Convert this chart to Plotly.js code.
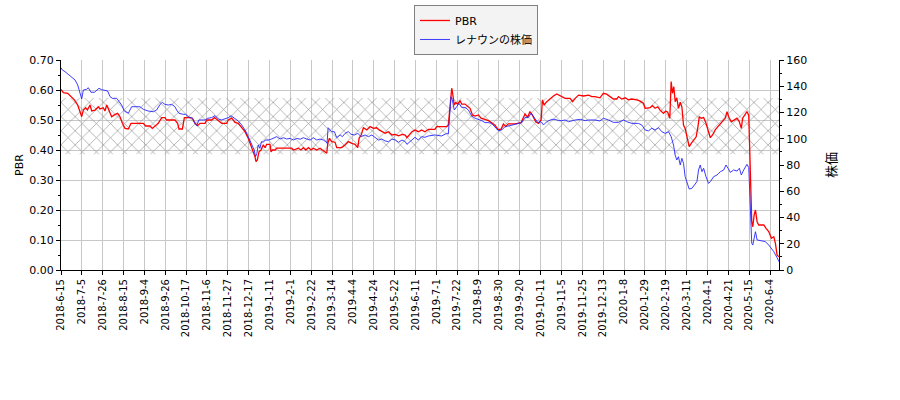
<!DOCTYPE html>
<html>
<head>
<meta charset="utf-8">
<script src="https://cdn.plot.ly/plotly-3.0.1.min.js"></script>
<style>
  html, body { margin: 0; padding: 0; background: #fff; }
  #myDiv { width: 900px; height: 400px; }
</style>
</head>
<body>
<div id="myDiv"></div>
<script>
// x = trading-day index (one tick label every 14 trading days)
var tickLabels = ['2018-6-15','2018-7-5','2018-7-26','2018-8-15','2018-9-4','2018-9-26',
  '2018-10-17','2018-11-6','2018-11-27','2018-12-17','2019-1-11','2019-2-1','2019-2-22',
  '2019-3-14','2019-4-4','2019-4-24','2019-5-22','2019-6-11','2019-7-1','2019-7-22',
  '2019-8-9','2019-8-30','2019-9-20','2019-10-11','2019-11-5','2019-11-25','2019-12-13',
  '2020-1-8','2020-1-29','2020-2-19','2020-3-11','2020-4-1','2020-4-21','2020-5-15','2020-6-4'];
var tickStep = 14;
var lastDay = 482;

// hatched reference band on the PBR axis
var bandLow = 0.386;
var bandHigh = 0.573;

var pbrDay = [0,1.6,4.5,6,9,11.2,12.8,13.9,15,16.6,17.7,19.5,20.6,22.8,25,26.2,28.4,29.5,30.7,32.9,
  34,35.8,38,39.6,41.2,43,45.2,47,55.3,56.8,59.7,61.3,63.1,65.3,67.6,69.8,70.9,76.5,78.3,79.2,
  81.5,82.8,86.6,88.2,90,91.7,93.3,96.7,97.8,101.1,103,105.6,107.9,111.2,112.3,114.6,
  116.8,119,121.3,123.5,125.7,127.5,129.1,130.2,130.9,131.8,132.9,134.3,135.2,135.8,137,138.1,
  140.3,141,141.9,143.7,144.8,150.4,151.5,154.9,156,159.3,161.1,162.7,164.3,166.1,167.9,169.4,
  171.7,173.9,175.5,177.7,178.4,179.1,180.2,181.7,184,185.1,188.4,190.7,192.9,195.2,197.4,199.2,
  200.1,201.5,203,205.3,207.5,209.8,212,213.6,215.4,217.6,219.9,222.1,224.4,226.6,228.9,231.1,
  232.2,233.8,235.6,
  237.6,239.9,242.1,244.3,246.6,251,252.2,258.9,260,261.1,262.3,262.9,264,264.9,266.3,267.9,269,
  271.2,273.5,274.6,276.2,278,280.2,282,284.6,286.9,289.1,291.4,293.2,295.4,297,298.5,300.3,304.8,
  308.8,310.4,311.5,313.3,314.8,316.4,318.7,320.5,322.3,323.2,324.3,326.1,328.3,330.6,332.8,335.1,
  338.4,341.8,343.4,345.2,347.4,350.8,354.1,356.4,
  358.5,361.8,364.1,366.3,368.6,370.8,373.1,374.2,376.4,378.7,380.9,383.2,386.5,388.8,391,392.1,
  395.5,397,398.8,400.6,402.2,404.4,406,407.3,408.7,409.6,410.5,411.4,412.3,413.4,414.5,415.7,
  416.8,417.9,419,420.2,421.7,423.1,424.6,426.4,427.6,428.5,429.8,431.4,433,434.7,435.9,437.4,
  439.2,441,442.6,444.1,445.9,447.1,448.2,450,451.5,453.8,455.4,456.7,457.6,459.4,460.5,461.7,
  462.3,463,463.7,464.4,465.3,466.2,467.3,468.4,471.8,473.3,475.1,476.9,478.5,479.6,480.7,482];
var pbrVal = [0.602,0.591,0.589,0.581,0.567,0.55,0.526,0.511,0.533,0.541,0.533,0.55,0.53,0.533,0.544,
  0.537,0.541,0.53,0.55,0.522,0.511,0.517,0.522,0.511,0.489,0.472,0.47,0.489,0.489,0.48,0.48,0.472,
  0.481,0.489,0.508,0.508,0.5,0.5,0.489,0.47,0.47,0.508,0.508,0.506,0.489,0.481,0.489,0.489,0.5,
  0.5,0.508,0.497,0.489,0.489,0.5,0.506,
  0.492,0.489,0.474,0.461,0.439,0.417,0.394,0.378,0.361,0.367,0.394,0.4,0.411,0.417,0.408,0.419,
  0.419,0.394,0.4,0.4,0.406,0.408,0.406,0.406,0.4,0.406,0.4,0.408,0.4,0.408,0.4,0.406,
  0.4,0.406,0.4,0.394,0.389,0.422,0.439,0.428,0.426,0.408,0.408,0.417,0.428,0.422,0.419,0.408,
  0.439,0.45,0.474,0.467,0.478,0.472,0.474,0.467,0.461,0.456,0.461,0.45,0.452,0.447,0.452,0.45,
  0.441,0.452,0.461,
  0.467,0.461,0.467,0.461,0.469,0.469,0.478,0.478,0.483,0.556,0.606,0.589,0.55,0.558,0.553,0.564,
  0.553,0.553,0.542,0.539,0.517,0.513,0.517,0.506,0.502,0.498,0.491,0.483,0.469,0.469,0.487,0.478,
  0.487,0.487,0.491,0.511,0.52,0.509,0.528,0.517,0.494,0.489,0.5,0.567,0.55,0.561,0.572,0.58,0.587,
  0.58,0.572,0.572,0.561,0.572,0.583,0.58,0.583,0.578,
  0.578,0.574,0.589,0.586,0.578,0.57,0.57,0.578,0.57,0.574,0.567,0.57,0.567,0.563,0.556,0.539,
  0.541,0.548,0.539,0.544,0.533,0.522,0.53,0.526,0.506,0.628,0.589,0.611,0.561,0.574,0.539,0.559,
  0.544,0.483,0.472,0.444,0.411,0.422,0.433,0.444,0.478,0.511,0.506,0.508,0.489,0.461,0.441,0.45,
  0.467,0.478,0.486,0.494,0.506,0.528,0.511,0.494,0.5,0.506,0.494,0.472,0.506,0.519,0.528,0.515,
  0.417,0.261,0.161,0.144,0.183,0.2,0.161,0.15,0.15,0.139,0.128,0.106,0.111,0.089,0.05,0.044];

var priceDay = [0,0.9,2.7,4.9,7.2,9.4,11.2,12.8,13.9,15,17.2,18.3,20.1,22.4,23.9,25.5,27.3,29.5,31.3,
  32.9,34.5,37.4,38.9,40.7,42.5,45.2,47.4,53,55.3,58.6,62,64.2,66.5,68,69.8,72,74.3,76.5,77.6,79.2,
  82.1,83.7,85.5,88.2,90,91.1,92.6,96.7,98.5,101.1,103.4,105.6,107.9,110.1,112.3,114.1,
  116.8,119,121.3,123.5,125.7,127.9,129.7,130.6,131.5,132.4,133.5,134.6,135.8,137,139.2,141.4,
  143.7,144.8,147.1,149.3,151.5,153.8,156,158.3,160.5,162.7,165,167.2,169.4,171.7,173.9,176.2,
  177.7,178.6,179.3,180.6,181.7,183.5,185.1,187.4,188.9,190.7,192.9,194.7,197,199.2,201.5,204.1,
  206.4,208.7,210.9,213.1,215.4,217.6,219.9,222.1,224.4,226.6,228.9,231.1,232.2,234.5,236.7,
  237.6,239.9,242.1,244.3,246.6,251,255.5,258.9,260,260.7,261.8,262.7,264,265.6,267.2,269,271.2,
  273.5,275.7,278,280.2,282.5,284.6,286.9,289.1,291.4,293.6,295.9,298.1,300.3,302.6,305.9,309.3,
  311.5,313.8,315.6,317.8,320.1,322.3,323.9,326.1,329.5,331.7,334,336.2,338.4,340.7,343,345.2,
  348.6,351.9,354.1,356.4,
  358.5,361.8,364.1,367.5,370.8,374.2,377.6,379.8,383.2,387.6,389.9,392.1,394.4,396.6,398.8,401.1,
  403.3,405.6,407.8,409.6,411.2,412.3,413.4,414.5,415.7,416.8,417.9,419,420.2,421.7,423.5,425.3,
  426.9,428,429.1,430.3,431.4,433,434.7,435.9,438.1,440.4,442.6,444.9,446.4,447.8,449.3,451.5,
  453.8,455.4,456.7,458.3,460.5,461.7,462.3,463,463.7,464.4,465.3,466.2,467.3,469.5,472.9,475.1,
  476.9,478.5,480.7,482];
var priceVal = [154.1,152.4,151.1,149.1,146.5,144.8,141,133.3,130.3,137.1,137.7,138.9,135.4,135.4,
  137.1,138.4,137.4,137.1,136.4,132.1,130.8,130.8,128.3,125.7,121.1,119.4,124.4,124.4,122.4,121.1,
  120.6,121.9,126.2,127.7,126.2,125.7,126.2,124.4,121.9,119.4,118.6,118.6,116.8,115.6,111.7,110,
  114.3,114.3,115.6,116.1,117.6,115,114.3,115,116.1,117.6,
  115,113.5,110.5,106.7,101.6,96.5,91.4,86.3,88.9,95.2,92.7,97.8,97.3,99,99,99.8,
  100.8,101.6,99.8,100.8,99.8,100.3,99,100.3,99.6,100.8,99.8,99,100.8,99,99.8,99,
  97.8,96.5,108.4,106.7,105.4,105.4,100.8,102.9,101.6,104.1,105.4,103.4,102.9,104.1,101.6,102.9,
  101.6,102.9,100.8,99,99.8,98.3,97.8,99.8,99,97.3,99,97.8,95.7,98.3,100.3,
  101.1,99,101.6,101.1,102.1,102.9,102.1,104.1,103.6,114.3,132,129.5,121.9,124.4,127,123.9,123.9,
  121.9,117.3,115.6,114.8,113.8,112.3,112.3,111.7,108.7,106.1,106.7,109.2,109.7,110.5,111.2,112.3,
  116.3,116.3,119.4,115.6,112.3,113,110.5,113,114.8,114.8,113.8,113.8,114.3,113,113.8,114.3,
  114.8,113.8,114.3,114.3,
  114.3,113.5,115.6,114.3,112.5,112.5,114.3,113,111.7,111.7,110.5,106.7,106,108,106.7,108.4,
  105.4,104.1,105.4,101.6,95.2,87.6,83.8,86.3,80,85.1,81.3,71.1,66,61.7,62.2,65.3,
  67.3,76.2,80,74.9,77.5,71.1,66,67.3,71.1,72.4,74.9,76.2,80,77.5,74.4,76.2,
  75.4,77.5,72.4,76.2,80.5,78,62.2,39.4,20.3,19,25.4,29.2,22.9,22.4,21.6,19,
  16.5,14,9.4,6.3];

var tickVals = tickLabels.map(function(label, i){ return i * tickStep; });

var band = {
  x: [0, lastDay, lastDay, 0, 0],
  y: [bandLow, bandLow, bandHigh, bandHigh, bandLow],
  type: 'scatter',
  mode: 'lines',
  fill: 'toself',
  fillcolor: 'rgba(0,0,0,0)',
  fillpattern: {shape: 'x', fgcolor: '#959595', bgcolor: 'rgba(255,255,255,0)', size: 10, solidity: 0.13},
  line: {width: 0},
  hoverinfo: 'skip',
  showlegend: false
};

var pbr = {
  x: pbrDay,
  y: pbrVal,
  type: 'scatter',
  mode: 'lines',
  name: 'PBR',
  line: {color: '#ff0000', width: 1.3}
};

var price = {
  x: priceDay,
  y: priceVal,
  type: 'scatter',
  mode: 'lines',
  name: 'レナウンの株価',
  yaxis: 'y2',
  line: {color: '#2626ff', width: 0.9}
};

var font = {family: 'DejaVu Sans, Noto Sans CJK JP, sans-serif', size: 11, color: '#000'};

var layout = {
  width: 900,
  height: 400,
  margin: {l: 61, r: 121, t: 60, b: 130, autoexpand: false},
  paper_bgcolor: '#fff',
  plot_bgcolor: '#fff',
  font: font,
  showlegend: true,
  legend: {
    x: 0.578, y: 1.262, xanchor: 'center', yanchor: 'top',
    bgcolor: '#f3f3f3', bordercolor: '#808080', borderwidth: 1,
    font: {family: font.family, size: 11, color: '#000'},
    tracegroupgap: 0
  },
  xaxis: {
    range: [0, lastDay],
    tickmode: 'array',
    tickvals: tickVals,
    ticktext: tickLabels,
    tickangle: -90,
    ticks: 'outside', ticklen: 4, tickcolor: '#000',
    showgrid: true, gridcolor: '#c8c8c8', gridwidth: 1,
    showline: true, linecolor: '#000', linewidth: 1,
    zeroline: false,
    tickfont: {size: 10}
  },
  yaxis: {
    range: [0, 0.7],
    dtick: 0.1,
    tickformat: '.2f',
    ticks: 'outside', ticklen: 4, tickcolor: '#000',
    minor: {dtick: 0.05, ticks: 'outside', ticklen: 2, tickcolor: '#000', showgrid: false},
    showgrid: true, gridcolor: '#c8c8c8', gridwidth: 1,
    showline: true, linecolor: '#000', linewidth: 1,
    zeroline: false,
    title: {text: 'PBR', standoff: 3, font: {size: 11}}
  },
  yaxis2: {
    overlaying: 'y',
    side: 'right',
    range: [0, 160],
    dtick: 20,
    ticks: 'outside', ticklen: 4, tickcolor: '#000',
    minor: {dtick: 10, ticks: 'outside', ticklen: 2, tickcolor: '#000', showgrid: false},
    showgrid: false,
    showline: true, linecolor: '#000', linewidth: 1,
    zeroline: false,
    title: {text: '株価', standoff: 20, font: {size: 13}}
  }
};

Plotly.newPlot('myDiv', [band, pbr, price], layout, {displayModeBar: false, staticPlot: true});
</script>
</body>
</html>
